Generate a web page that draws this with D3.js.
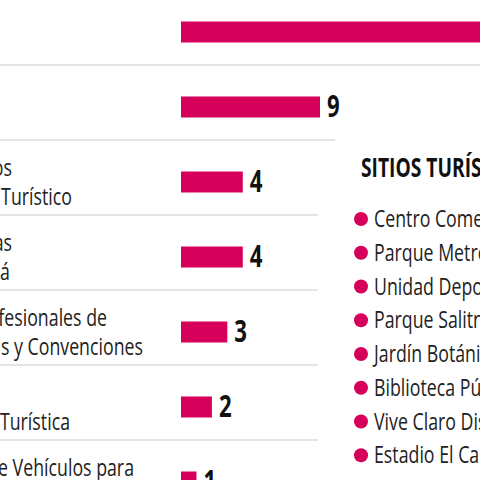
<!DOCTYPE html>
<html><head><meta charset="utf-8">
<script src="https://cdn.jsdelivr.net/npm/d3@7"></script>
<style>
body{margin:0;background:#fff;overflow:hidden}
text{font-family:"Open Sans","DejaVu Sans",sans-serif}
</style></head><body>
<svg id="chart" width="480" height="480"></svg>
<script>
const categories = [
  ["Agencias de Viajes"],
  ["Establecimientos de Gastronomía"],
  ["Operadores de Parques Temáticos", "Establecimientos de Alojamiento Turístico"],
  ["Empresas de Transporte de Turistas", "Oficinas de Representación Turística de Bogotá"],
  ["Organizadores Profesionales de", "Congresos, Ferias y Convenciones"],
  ["", "Oficinas de Información Turística"],
  ["Arrendadores de Vehículos para", "Turismo Nacional e Internacional"]
];
const values = [22, 9, 4, 4, 3, 2, 1];
// where each visible label line ends (left part runs off the page)
const lineEnds = [[-20], [-20], [12, 72], [12, 10], [107, 143], [0, 70], [134, 100]];
const sitesTitle = "SITIOS TURÍSTICOS";
const sites = ["Centro Comercial Andino", "Parque Metropolitano Simón Bolívar", "Unidad Deportiva El Salitre",
  "Parque Salitre Mágico", "Jardín Botánico de Bogotá", "Biblioteca Pública Virgilio Barco",
  "Vive Claro Distrito Cultural", "Estadio El Campín", "Movistar Arena"];

const pink = "#d6005a";
const squeeze = 0.74;
const svg = d3.select("#chart");

const y = d3.scaleBand().domain(d3.range(values.length)).range([-5.5, 519.5]);
const x = d3.scaleLinear().domain([0, 9]).range([181, 320]);
const mid = i => y(i) + y.bandwidth() / 2;

// separators
svg.selectAll("line.sep").data(d3.range(values.length - 1)).enter().append("line")
  .attr("x1", 0).attr("x2", i => i === 0 ? 480 : i === 1 ? 335 : 318)
  .attr("y1", i => mid(i) + 33).attr("y2", i => mid(i) + 33)
  .attr("stroke", "#dcdcdc").attr("stroke-width", 1.5);

const row = svg.selectAll("g.row").data(values).enter().append("g")
  .attr("transform", (d, i) => `translate(0,${mid(i)})`);

row.append("rect").attr("x", x(0)).attr("y", -10.5).attr("height", 21)
  .attr("width", d => x(d) - x(0)).attr("fill", pink);

row.append("text")
  .attr("transform", d => `translate(${x(d) + 7},10) scale(${squeeze},1)`)
  .attr("font-size", 30).attr("font-weight", "bold").attr("fill", "#111")
  .text(d => d);

row.each(function (d, i) {
  const lines = categories[i];
  lines.forEach((l, j) => {
    d3.select(this).append("text")
      .attr("transform", `translate(${lineEnds[i][j]},${(j - (lines.length - 1) / 2) * 29 + 8}) scale(${squeeze},1)`)
      .attr("text-anchor", "end").attr("font-size", 24).attr("fill", "#222").text(l);
  });
});

// legend
const leg = svg.append("g").attr("transform", "translate(361,0)");
leg.append("text").attr("transform", `translate(0,177) scale(${squeeze},1)`).attr("font-size", 26)
  .attr("font-weight", "bold").attr("fill", "#111").text(sitesTitle);
const ly = d3.scalePoint().domain(d3.range(sites.length)).range([219, 489]);
const item = leg.selectAll("g.item").data(sites).enter().append("g")
  .attr("transform", (d, i) => `translate(0,${ly(i)})`);
item.append("circle").attr("cx", 0).attr("cy", 0).attr("r", 7).attr("fill", pink);
item.append("text").attr("transform", `translate(13,8) scale(${squeeze},1)`)
  .attr("font-size", 24).attr("fill", "#222").text(d => d);
</script></body></html>
